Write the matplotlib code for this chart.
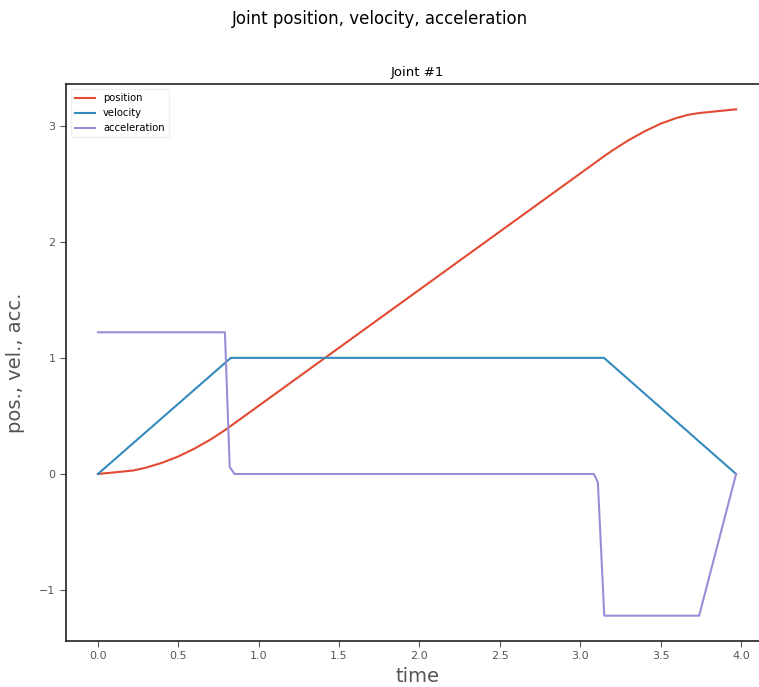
import numpy as np
import matplotlib.pyplot as plt

# samples
t_pos = [0.0, 0.22, 0.3, 0.4, 0.5, 0.6, 0.7, 0.8, 0.9, 3.15, 3.2, 3.3, 3.4, 3.5, 3.6, 3.67, 3.74, 3.97]
position = [0.0, 0.03, 0.055, 0.097, 0.151, 0.218, 0.296, 0.387, 0.487, 2.737, 2.785, 2.873,
            2.950, 3.016, 3.066, 3.092, 3.108, 3.14]

t_vel = [0.0, 0.827, 3.148, 3.97]
velocity = [0.0, 1.0, 1.0, 0.0]

t_acc = [0.0, 0.79, 0.82, 0.85, 3.085, 3.11, 3.15, 3.74, 3.97]
acceleration = [1.22, 1.22, 0.06, 0.0, 0.0, -0.07, -1.22, -1.22, 0.0]

fig = plt.figure(figsize=(7.59, 6.87), dpi=100)
ax = fig.add_axes([66 / 759, 1 - 641 / 687, 702 / 759, (641 - 84) / 687])

ax.plot(t_pos, position, color='#E24A33', lw=1.5, label='position')
ax.plot(t_vel, velocity, color='#348ABD', lw=1.5, label='velocity')
ax.plot(t_acc, acceleration, color='#988ED5', lw=1.5, label='acceleration')

ax.set_xticks(np.arange(0, 4.01, 0.5))
ax.set_yticks([-1, 0, 1, 2, 3])
ax.tick_params(labelsize=8, colors='#555555', direction='out', length=4)
for side in ['top', 'bottom', 'left']:
    ax.spines[side].set_color('#222222')
    ax.spines[side].set_linewidth(1.2)
ax.spines['right'].set_visible(False)

ax.set_xlabel('time', fontsize=14, color='#555555', labelpad=4)
ax.set_ylabel('pos., vel., acc.', fontsize=14, color='#555555', labelpad=10)
ax.set_title('Joint #1', fontsize=9.5)
fig.suptitle('Joint position, velocity, acceleration', fontsize=12, y=0.985)

leg = ax.legend(loc='upper left', fontsize=7.2, framealpha=0.8, edgecolor='#eeeeee',
                fancybox=True, handlelength=2.0)

fig.savefig('out.png', dpi=100)
